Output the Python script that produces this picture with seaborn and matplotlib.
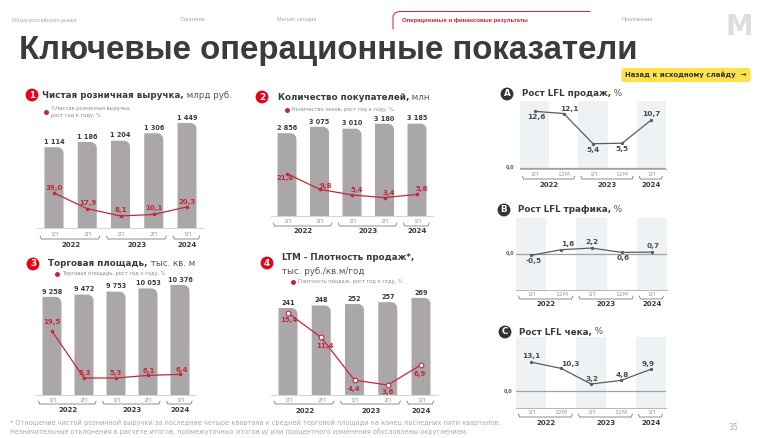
import numpy as np
import pandas as pd
import matplotlib
matplotlib.use("Agg")
import matplotlib.pyplot as plt
import matplotlib.transforms as mtransforms
from matplotlib.lines import Line2D
from matplotlib.path import Path
from matplotlib.patches import PathPatch
import seaborn as sns

# --- data ---
periods_half = ["1П", "2П", "1П", "2П", "1П"]
periods_lfl = ["1П", "12М", "1П", "12М", "1П"]
years = ["2022", "2023", "2024"]
year_groups = [(0, 1), (2, 3), (4, 4)]

revenue = [1114, 1186, 1204, 1306, 1449]
revenue_growth = [39.0, 17.9, 8.1, 10.1, 20.3]
customers = [2856, 3075, 3010, 3180, 3185]
customers_growth = [21.8, 9.8, 5.4, 3.4, 5.8]
selling_area = [9258, 9472, 9753, 10053, 10376]
area_growth = [19.5, 5.3, 5.3, 6.1, 6.4]
sales_density = [241, 248, 252, 257, 269]
density_growth = [15.4, 11.4, 4.4, 3.6, 6.9]
lfl_sales = [12.6, 12.1, 5.4, 5.5, 10.7]
lfl_traffic = [-0.5, 1.6, 2.2, 0.6, 0.7]
lfl_ticket = [13.1, 10.3, 3.2, 4.8, 9.9]

sns.set_theme(style="white")
plt.rcParams['font.family'] = ['DejaVu Sans']

W, H = 758, 438
fig = plt.figure(figsize=(W / 100, H / 100), dpi=100)
fig.patch.set_facecolor('white')

RED = '#c3283a'
BADGE_RED = '#e1061b'
BAR_GREY = '#aba7a9'
DARK = '#3a3a3a'
PT = 100 / 72  # px per point
idx = list(range(5))


def fx(x):
    return x / W


def fy(y):
    return 1 - y / H


def px_axes(x0, y0, x1, y1):
    ax = fig.add_axes([fx(x0), fy(y1), (x1 - x0) / W, (y1 - y0) / H])
    ax.set_facecolor('none')
    return ax


def ftext(x, y, s, **kw):
    return fig.text(fx(x), fy(y), s, **kw)


def num(v):
    return f"{v:,}".replace(",", " ")


def pct(v):
    return f"{v:.1f}".replace(".", ",")


renderer = fig.canvas.get_renderer()


def panel_title(x, y, bold, normal, size=6.3):
    t = ftext(x, y, bold, fontsize=size, weight='bold', color=DARK, va='center')
    bb = t.get_window_extent(renderer)
    if normal:
        fig.text(bb.x1 / W, fy(y), normal, fontsize=size, color='#555555', va='center')


def badge(x, y, s, fc):
    ftext(x, y, s, fontsize=6.3, weight='bold', color='white', ha='center', va='center',
          bbox=dict(boxstyle='circle,pad=0.22', fc=fc, ec='none'))


def legend_dot(x, y, text):
    fig.add_artist(Line2D([fx(x)], [fy(y)], marker='o', markersize=3.6, color=RED,
                          markeredgewidth=0, transform=fig.transFigure))
    ftext(x + 5, y, text, fontsize=3.7, color='#8a8a8a', va='center', linespacing=1.3)


def year_brackets(ax, y_br, y_yr):
    tr = mtransforms.blended_transform_factory(ax.transData, fig.transFigure)
    for (i, j), yr in zip(year_groups, years):
        a, b = i - 0.42, j + 0.38
        fig.add_artist(Line2D([a, a + 0.04, b - 0.04, b],
                              [fy(y_br - 3), fy(y_br), fy(y_br), fy(y_br - 3)],
                              color='#7a7a7a', lw=0.6, transform=tr))
        fig.text((i + j) / 2, fy(y_yr), yr, transform=tr, ha='center', va='center',
                 fontsize=5, weight='bold', color=DARK)


def rounded_bars(ax, spacing, s_bar, r=6):
    rx, ry, k = r / spacing, r / s_bar, 0.5523
    for p in list(ax.patches):
        x0, w, h = p.get_x(), p.get_width(), p.get_height()
        x1 = x0 + w
        verts = [(x0, 0), (x1, 0), (x1, h - ry), (x1, h - ry + k * ry),
                 (x1 - rx + k * rx, h), (x1 - rx, h), (x0, h), (x0, 0)]
        codes = [Path.MOVETO, Path.LINETO, Path.LINETO, Path.CURVE4, Path.CURVE4,
                 Path.CURVE4, Path.LINETO, Path.CLOSEPOLY]
        ax.add_patch(PathPatch(Path(verts, codes), fc=BAR_GREY, ec='none'))
        p.set_visible(False)


def bar_panel(x_first, spacing, z_bar, s_bar, z_line, s_line, bars, growth, offsets,
              hollow, br_y, yr_y, tick_pad=2.2):
    y_base, y_top = z_bar, z_bar - 140
    ax = px_axes(x_first - spacing / 2, y_top, x_first + 4.5 * spacing, y_base)
    sns.barplot(x=idx, y=bars, ax=ax, color=BAR_GREY, saturation=1, width=19 / spacing)
    rounded_bars(ax, spacing, s_bar)
    ax.set_xlim(-0.5, 4.5)
    ax.set_ylim(0, (y_base - y_top) / s_bar)
    for i, v in enumerate(bars):
        ax.annotate(num(v), (i, v), xytext=(0, 1.6), textcoords='offset points',
                    ha='center', va='bottom', fontsize=4.7, weight='bold', color=DARK)
    ax.set_xticks(idx)
    ax.set_xticklabels(periods_half, fontsize=4.3, color='#9a9a9a')
    ax.tick_params(axis='x', length=0, pad=tick_pad)
    ax.set_yticks([])
    ax.set_xlabel("")
    ax.set_ylabel("")
    for sp in ['top', 'left', 'right']:
        ax.spines[sp].set_visible(False)
    ax.spines['bottom'].set_color('#cfcfcf')
    ax.spines['bottom'].set_linewidth(0.6)

    ax2 = ax.twinx()
    if hollow:
        sns.lineplot(x=idx, y=growth, ax=ax2, color=RED, lw=0.9, marker='o', markersize=3.4,
                     markerfacecolor='white', markeredgecolor=RED, markeredgewidth=0.8)
    else:
        sns.lineplot(x=idx, y=growth, ax=ax2, color=RED, lw=0.9, marker='o', markersize=2.6,
                     markeredgewidth=0)
    ax2.set_xlim(-0.5, 4.5)
    ax2.set_ylim((z_line - y_base) / s_line, (z_line - y_top) / s_line)
    ax2.axis('off')
    for i, (v, (dx, dy)) in enumerate(zip(growth, offsets)):
        ax2.annotate(pct(v), (i, v), xytext=(dx / PT, dy / PT), textcoords='offset points',
                     ha='center', va='center', fontsize=5, weight='bold', color=RED)
    year_brackets(ax, br_y, yr_y)
    return ax


def lfl_panel(x0, x1, y_top, y_base, z, s, values, offsets, zero_x, br_y, yr_y):
    ax = px_axes(x0, y_top, x1, y_base)
    for i in (0, 2, 4):
        ax.axvspan(i - 0.5, i + 0.5, color='#eef2f5', lw=0)
    ax.axhline(0, color='#a0a0a0', lw=0.9)
    sns.lineplot(x=idx, y=values, ax=ax, color='#5c5c5c', lw=0.9, marker='o',
                 markersize=2.4, markeredgewidth=0)
    ax.set_xlim(-0.5, 4.5)
    ax.set_ylim((z - y_base) / s, (z - y_top) / s)
    for i, (v, (dx, dy)) in enumerate(zip(values, offsets)):
        ax.annotate(pct(v), (i, v), xytext=(dx / PT, dy / PT), textcoords='offset points',
                    ha='center', va='center', fontsize=5.3, weight='bold', color='#4a4a4a')
    ax.set_xticks(idx)
    ax.set_xticklabels(periods_lfl, fontsize=4.3, color='#9a9a9a')
    ax.tick_params(axis='x', length=0, pad=1.8)
    ax.set_yticks([])
    ax.set_xlabel("")
    ax.set_ylabel("")
    for sp in ['top', 'left', 'right']:
        ax.spines[sp].set_visible(False)
    ax.spines['bottom'].set_color('#b5b5b5')
    ax.spines['bottom'].set_linewidth(0.7)
    ftext(zero_x, z, "0,0", fontsize=3.4, weight='bold', color='#555555', ha='right', va='center')
    year_brackets(ax, br_y, yr_y)
    return ax


# --- header ---
nav = [(12, "Обзор российского рынка"), (180, "Стратегия"), (277, "Магнит сегодня"),
       (622, "Приложение")]
for x, s in nav:
    ftext(x, 20, s, fontsize=3.9, color='#a5a5a5', va='center', family=['Liberation Sans', 'DejaVu Sans'])
ftext(402, 20, "Операционные и финансовые результаты", fontsize=4.3, weight='bold', color='#d01c2c',
      va='center', family=['Liberation Sans', 'DejaVu Sans'])
fig.add_artist(Line2D([fx(393), fx(393), fx(395), fx(399), fx(590)],
                      [fy(29), fy(16), fy(13), fy(11.5), fy(11.5)],
                      color='#d01c2c', lw=0.7, transform=fig.transFigure))
ftext(739, 27, "М", fontsize=20, weight='bold', color='#dedede', ha='center', va='center')
ftext(19, 50, "Ключевые операционные показатели", fontsize=23.8, weight='bold', color='#3b3b3b',
      va='center', family=['Liberation Sans', 'DejaVu Sans'])
ftext(686, 75, "Назад к исходному слайду  →", fontsize=5.0, weight='bold', color='#333333',
      ha='center', va='center',
      bbox=dict(boxstyle='round,pad=0.55,rounding_size=0.5', fc='#ffe14a', ec='none'))

# --- panel 1: net retail sales ---
badge(32, 95, "1", BADGE_RED)
panel_title(42, 95, "Чистая розничная выручка,", " млрд руб.")
legend_dot(46, 112, "%Чистая розничная выручка,\nрост год к году, %")
bar_panel(54, 33.25, 228, 0.0725, 222, 0.744, revenue, revenue_growth,
          [(0, 5), (1, 6), (0, 6), (0, 6), (0, 5)], False, 239, 245, tick_pad=2.6)

# --- panel 2: customers ---
badge(262, 97, "2", BADGE_RED)
panel_title(278, 97, "Количество покупателей,", " млн")
legend_dot(287, 110, "Количество чеков, рост год к году, %")
bar_panel(287, 32.5, 216, 0.029, 202, 1.3, customers, customers_growth,
          [(-2, -4), (6, 3), (5, 5), (4, 5), (5, 5.5)], False, 226, 231, tick_pad=2)

# --- panel 3: selling space ---
badge(33, 264, "3", BADGE_RED)
panel_title(48, 264, "Торговая площадь,", " тыс. кв. м")
legend_dot(57, 274, "Торговая площадь, рост год к году, %")
bar_panel(52, 32, 395, 0.0106, 395.5, 3.3, selling_area, area_growth,
          [(0, 9), (1, 5), (0, 5), (1, 4), (2, 4)], False, 404, 410, tick_pad=2.4)

# --- panel 4: sales density ---
badge(267, 263, "4", BADGE_RED)
ftext(282, 258, "LTM - Плотность продаж*,", fontsize=6.3, weight='bold', color=DARK, va='center')
ftext(282, 271, "тыс. руб./кв.м/год", fontsize=6.3, color='#555555', va='center')
legend_dot(293, 282, "Плотность продаж, рост год к году, %")
bar_panel(288, 33.25, 395, 0.361, 407, 6.1, sales_density, density_growth,
          [(1, -7), (4, -9), (-1, -9), (0, -7), (-1, -9)], True, 404, 411, tick_pad=2)

# --- LFL panels ---
badge(507, 94, "A", '#333333')
panel_title(522, 94, "Рост LFL продаж,", " %")
lfl_panel(520, 666, 101, 169, 168, 4.5, lfl_sales,
          [(2, -6), (6, 4.5), (0, -6), (0, -6), (0, 6)], 514, 179, 185)

badge(504, 210, "B", '#333333')
panel_title(518, 210, "Рост LFL трафика,", " %")
lfl_panel(516, 667, 218, 290, 254, 2.7, lfl_traffic,
          [(3, -5.5), (6, 6), (0, 6), (1, -6), (1, 6)], 514, 299, 304)

badge(505, 332, "C", '#333333')
panel_title(519, 332, "Рост LFL чека,", " %")
lfl_panel(516, 666, 337, 408, 391, 2.2, lfl_ticket,
          [(0, 6), (9, 4), (1, 5), (1, 5), (-3, 5.5)], 512, 417, 423)

# --- footer ---
ftext(10, 423, "* Отношение чистой розничной выручки за последние четыре квартала к средней торговой "
      "площади на конец последних пяти кварталов.", fontsize=4.7, color='#a8a8a8', va='center')
ftext(10, 432, "Незначительные отклонения в расчете итогов, промежуточных итогов и/ или процентного "
      "изменения обусловлены округлением.", fontsize=4.7, color='#a8a8a8', va='center')
ftext(733, 427, "35", fontsize=5.5, color='#b0b0b0', ha='center', va='center')

fig.savefig("out.png", dpi=100, facecolor='white')
